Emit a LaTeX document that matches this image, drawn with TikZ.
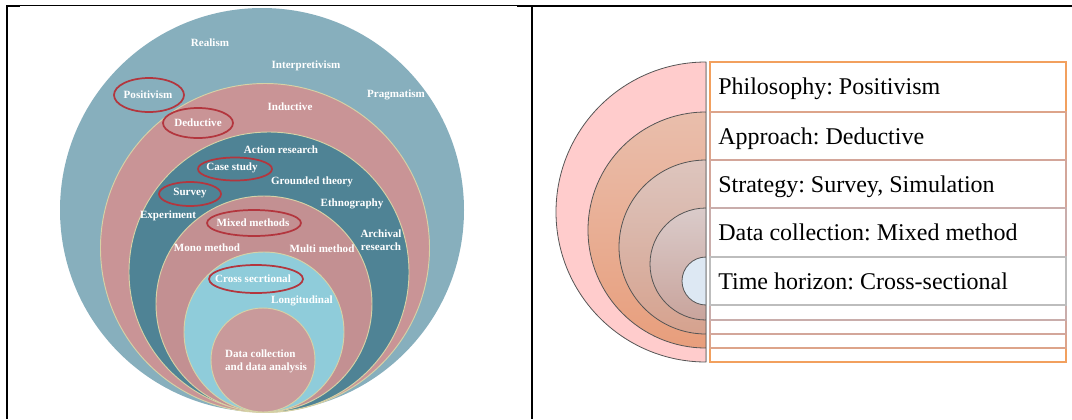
\documentclass[tikz,border=0pt]{standalone}
\usepackage{fontspec}
\setmainfont{Liberation Serif}
\frenchspacing
\begin{document}
\begin{tikzpicture}[x=0.75pt,y=-0.75pt,
  ringline/.style={draw=ringedge, line width=0.7pt},
  lbl/.style={text=white, font=\fontsize{8.3}{9.6}\selectfont\bfseries, inner sep=0pt},
  pick/.style={draw=pickred, line width=1.3pt},
  rowtxt/.style={anchor=base west, font=\fontsize{18}{20}\selectfont, inner sep=0pt},
  halfdisc/.style={draw=arcedge, line width=0.6pt},
  frame/.style={draw=black, line width=1.5pt}]
\definecolor{ringedge}{HTML}{D6D2A6}
\definecolor{pickred}{HTML}{B3363E}
\definecolor{tealA}{HTML}{87AFBD}
\definecolor{roseA}{HTML}{C99496}
\definecolor{tealB}{HTML}{4F8395}
\definecolor{roseB}{HTML}{C39092}
\definecolor{skyB}{HTML}{8FCCDA}
\definecolor{roseC}{HTML}{C99A9B}
\definecolor{arcedge}{HTML}{555555}
\definecolor{lvA}{HTML}{F2A05E}
\definecolor{lvB}{HTML}{DDA48A}
\definecolor{lvC}{HTML}{D3A69A}
\definecolor{lvD}{HTML}{C9ADAB}
\definecolor{lvE}{HTML}{BDBDBD}

\useasboundingbox (0,0) rectangle (1072,419);
\fill[white] (0,0) rectangle (1072,419);

% ---------- outer table frame ----------
\draw[line width=0.75pt] (7,5) -- (517,5);
\draw[frame] (7,5.6) -- (20,5.6);
\draw[frame] (517,5.6) -- (1072,5.6);
\draw[frame] (7,5) -- (7,419);
\draw[frame] (532,5) -- (532,419);

% ---------- research onion ----------
\fill[tealA] (262,210) circle[radius=202];
\filldraw[fill=roseA, ringline] (265,248) circle[radius=164.5];
\filldraw[fill=tealB, ringline] (269,272) circle[radius=140];
\filldraw[fill=roseB, ringline] (264,304) circle[radius=108];
\filldraw[fill=skyB, ringline] (264,332) circle[radius=80];
\filldraw[fill=roseC, ringline] (263,360) circle[radius=52];

% layer labels
\node[lbl] (realism) at (210,43) {Realism};
\node[lbl] (interp) at (306,66) {Interpretivism};
\node[lbl] (posit) at (148,95) {Positivism};
\node[lbl] (pragm) at (396,95) {Pragmatism};
\node[lbl] (induct) at (290,107) {Inductive};
\node[lbl] (deduct) at (198,123) {Deductive};
\node[lbl] (action) at (281,150) {Action research};
\node[lbl] (casest) at (232,168) {Case study};
\node[lbl] (ground) at (312,182) {Grounded theory};
\node[lbl] (survey) at (190,193) {Survey};
\node[lbl] (ethno) at (352,204) {Ethnography};
\node[lbl] (exper) at (168,216) {Experiment};
\node[lbl] (mixed) at (253,223) {Mixed methods};
\node[lbl, align=center] (archiv) at (381,240) {Archival\\research};
\node[lbl] (mono) at (207,248) {Mono method};
\node[lbl] (multi) at (322,249) {Multi method};
\node[lbl] (cross) at (253,279) {Cross secrtional};
\node[lbl] (longi) at (302,301) {Longitudinal};
\node[lbl, align=left] (datacol) at (266,361) {Data collection\\ and data analysis};

% chosen options
\draw[pick] (149,95) ellipse[x radius=35, y radius=17];
\draw[pick] (198,123) ellipse[x radius=35, y radius=15];
\draw[pick] (235,169) ellipse[x radius=37, y radius=11.5];
\draw[pick] (190,194) ellipse[x radius=31, y radius=12];
\draw[pick] (254,223) ellipse[x radius=47, y radius=13];
\draw[pick] (256,279) ellipse[x radius=47, y radius=14];

% ---------- nested half discs ----------
\draw[halfdisc, fill=pink!80!white] (706,62) arc[start angle=-90, end angle=-270, radius=150] -- cycle;
\shade[halfdisc, top color={rgb,255:red,233;green,190;blue,172}, bottom color={rgb,255:red,232;green,158;blue,124}]
  (706,112) arc[start angle=-90, end angle=-270, radius=118] -- cycle;
\shade[halfdisc, top color={rgb,255:red,221;green,197;blue,190}, bottom color={rgb,255:red,214;green,162;blue,142}]
  (706,160) arc[start angle=-90, end angle=-270, radius=87] -- cycle;
\shade[halfdisc, top color={rgb,255:red,218;green,203;blue,202}, bottom color={rgb,255:red,201;green,164;blue,156}]
  (706,208) arc[start angle=-90, end angle=-270, radius=56] -- cycle;
\draw[halfdisc, fill={rgb,255:red,221;green,232;blue,243}] (706,257) arc[start angle=-90, end angle=-270, radius=24] -- cycle;
\draw[draw={rgb,255:red,168;green,168;blue,168}, line width=0.9pt] (706.5,62) -- (706.5,362);

% ---------- nested level boxes ----------
\draw[draw=lvA, line width=1pt] (710,62) rectangle (1066,362);
\draw[draw=lvB, line width=1pt] (710,112) rectangle (1066,348);
\draw[draw=lvC, line width=1pt] (710,160) rectangle (1066,334);
\draw[draw=lvD, line width=1pt] (710,208) rectangle (1066,320);
\draw[draw=lvE, line width=1pt] (710,257) rectangle (1066,305);

\node[rowtxt] (philo) at (718,94) {Philosophy: Positivism};
\node[rowtxt] (appro) at (718,144) {Approach: Deductive};
\node[rowtxt] (strat) at (718,192) {Strategy: Survey, Simulation};
\node[rowtxt] (dcoll) at (718,240) {Data collection: Mixed method};
\node[rowtxt] (thoriz) at (718,289) {Time horizon: Cross-sectional};
\end{tikzpicture}
\end{document}
